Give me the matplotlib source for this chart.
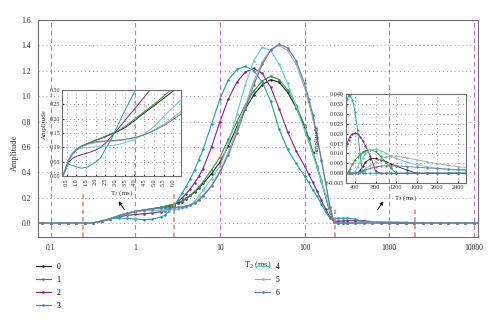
import matplotlib
matplotlib.use('Agg')
import matplotlib.pyplot as plt
from matplotlib.ticker import FormatStrFormatter, NullLocator

plt.rcParams['font.family'] = ['Liberation Serif', 'DejaVu Serif']
plt.rcParams['mathtext.fontset'] = 'stix'

# T2 grid (ms)
t2 = [0.063, 0.079, 0.1, 0.126, 0.158, 0.2, 0.251, 0.316, 0.398, 0.501, 0.631, 0.794,
      1.0, 1.259, 1.585, 1.995, 2.239, 2.512, 2.818, 3.162, 3.548, 3.981, 4.467, 5.012,
      5.623, 6.31, 7.943, 10.0, 12.59, 15.85, 19.95, 25.12, 31.62, 39.81, 50.12, 63.1,
      79.43, 100.0, 112.2, 125.9, 141.3, 158.5, 177.8, 199.5, 223.9, 251.2, 281.8, 316.2,
      398.1, 501.2, 631.0, 794.3, 1000.0, 1259.0, 1585.0, 1995.0, 2512.0, 3162.0, 3981.0,
      5012.0, 6310.0, 7943.0, 10000.0, 12589.0]

amp_0 = [0, 0, 0, 0, 0, 0, 0,
         0.002, 0.015, 0.034, 0.057, 0.077, 0.092, 0.103, 0.113, 0.124,
         0.130, 0.137, 0.146, 0.156, 0.170, 0.192, 0.218, 0.245, 0.277, 0.312,
         0.39, 0.48, 0.61, 0.76, 0.90, 1.01, 1.09, 1.13, 1.11, 1.03, 0.91,
         0.76, 0.66, 0.55, 0.44, 0.33, 0.21, 0.09, 0.005, 0, 0, 0,
         0, 0.0015, 0.0062, 0.0075, 0.0058, 0.003, 0, 0, 0, 0, 0, 0, 0, 0, 0, 0]
amp_1 = [0, 0, 0, 0, 0, 0, 0,
         0.002, 0.016, 0.035, 0.058, 0.078, 0.093, 0.104, 0.114, 0.125,
         0.131, 0.139, 0.148, 0.158, 0.174, 0.197, 0.222, 0.250, 0.285, 0.325,
         0.42, 0.52, 0.66, 0.80, 0.93, 1.04, 1.12, 1.157, 1.13, 1.05, 0.93,
         0.77, 0.67, 0.56, 0.45, 0.33, 0.21, 0.09, 0.006, 0, 0.0012, 0.0025,
         0.0065, 0.0095, 0.0117, 0.011, 0.0055, 0, 0, 0, 0, 0, 0, 0, 0, 0, 0, 0]
amp_2 = [0, 0, 0, 0, 0, 0, 0,
         0.002, 0.013, 0.030, 0.049, 0.061, 0.068, 0.074, 0.080, 0.090,
         0.099, 0.115, 0.138, 0.165, 0.197, 0.232, 0.272, 0.318, 0.37, 0.43,
         0.60, 0.80, 0.98, 1.11, 1.19, 1.218, 1.18, 1.07, 0.90, 0.72, 0.57,
         0.45, 0.385, 0.32, 0.25, 0.18, 0.11, 0.045, 0.014, 0.0155, 0.0173, 0.0188,
         0.0203, 0.0185, 0.0125, 0.0015, 0, 0, 0, 0, 0, 0, 0, 0, 0, 0, 0, 0]
amp_3 = [0, 0, 0, 0, 0, 0, 0,
         0.002, 0.02, 0.036, 0.04, 0.037, 0.032, 0.027, 0.031, 0.048,
         0.062, 0.095, 0.13, 0.18, 0.235, 0.29, 0.35, 0.42, 0.50, 0.58,
         0.78, 0.98, 1.13, 1.21, 1.235, 1.20, 1.11, 0.96, 0.74, 0.58, 0.47,
         0.37, 0.32, 0.26, 0.21, 0.15, 0.09, 0.04, 0.033, 0.0375, 0.0394, 0.0395,
         0.031, 0.009, 0, 0, 0, 0, 0, 0, 0, 0, 0, 0, 0, 0, 0, 0]
amp_4 = [0, 0, 0, 0, 0, 0, 0,
         0.002, 0.016, 0.036, 0.06, 0.081, 0.093, 0.097, 0.099, 0.101,
         0.102, 0.104, 0.106, 0.11, 0.116, 0.126, 0.145, 0.172, 0.215, 0.26,
         0.35, 0.45, 0.63, 0.86, 1.09, 1.28, 1.385, 1.36, 1.25, 1.10, 0.92,
         0.73, 0.64, 0.54, 0.44, 0.33, 0.22, 0.10, 0.008, 0, 0, 0,
         0.001, 0.0055, 0.0105, 0.0122, 0.0102, 0.007, 0.0044, 0.0025, 0.0013, 0.0005, 0, 0, 0, 0, 0, 0]
amp_5 = [0, 0, 0, 0, 0, 0, 0,
         0.002, 0.015, 0.034, 0.056, 0.075, 0.089, 0.101, 0.110, 0.116,
         0.118, 0.120, 0.121, 0.123, 0.127, 0.133, 0.143, 0.160, 0.185, 0.22,
         0.30, 0.41, 0.56, 0.74, 0.93, 1.12, 1.27, 1.37, 1.40, 1.36, 1.25,
         1.07, 0.95, 0.82, 0.66, 0.49, 0.31, 0.13, 0.006, 0, 0, 0,
         0, 0, 0.0027, 0.0057, 0.0083, 0.0086, 0.0069, 0.0048, 0.003, 0.0015, 0.0005, 0, 0, 0, 0, 0]
amp_6 = [0, 0, 0, 0, 0, 0, 0,
         0.002, 0.015, 0.035, 0.058, 0.076, 0.09, 0.103, 0.113, 0.119,
         0.121, 0.122, 0.123, 0.125, 0.128, 0.133, 0.142, 0.158, 0.18, 0.212,
         0.29, 0.40, 0.54, 0.71, 0.90, 1.09, 1.25, 1.36, 1.41, 1.38, 1.28,
         1.10, 0.98, 0.85, 0.68, 0.50, 0.32, 0.13, 0.006, 0, 0, 0,
         0, 0.0008, 0.002, 0.0032, 0.0038, 0.0036, 0.003, 0.0024, 0.0018, 0.001, 0.0003, 0, 0, 0, 0, 0]

# long T2 tail, shown in the right inset
tail_t2 = [230, 250, 275, 300, 350, 400, 450, 500, 550, 600, 700, 800, 900, 1000,
           1100, 1200, 1400, 1600, 1800, 2000, 2200, 2400, 2550]
tail_0 = [0, 0, 0, 0, 0, 0, 0, 0.0015, 0.0035, 0.0055, 0.0074, 0.0075, 0.0068, 0.0058,
          0.0047, 0.0036, 0.0017, 0, 0, 0, 0, 0, 0]
tail_1 = [0, 0, 0.001, 0.002, 0.0045, 0.0065, 0.0082, 0.0095, 0.0106, 0.0114, 0.0118, 0.011,
          0.0085, 0.0055, 0.0025, 0, 0, 0, 0, 0, 0, 0, 0]
tail_2 = [0.014, 0.0155, 0.017, 0.0185, 0.0198, 0.0203, 0.0198, 0.0185, 0.0165, 0.014, 0.0085,
          0.001, 0, 0, 0, 0, 0, 0, 0, 0, 0, 0, 0]
tail_3 = [0.034, 0.0375, 0.0393, 0.0396, 0.037, 0.031, 0.022, 0.009, 0, 0, 0, 0, 0, 0, 0, 0,
          0, 0, 0, 0, 0, 0, 0]
tail_4 = [0, 0, 0, 0, 0, 0.001, 0.003, 0.0055, 0.0078, 0.0097, 0.0118, 0.0122, 0.0115, 0.0102,
          0.0088, 0.0075, 0.0057, 0.0043, 0.0033, 0.0025, 0.0019, 0.0015, 0.0013]
tail_5 = [0, 0, 0, 0, 0, 0, 0, 0, 0.0012, 0.0022, 0.004, 0.0058, 0.0073, 0.0083, 0.0087,
          0.0086, 0.0078, 0.0068, 0.0058, 0.0048, 0.004, 0.0033, 0.003]
tail_6 = [0, 0, 0, 0, 0, 0, 0.0003, 0.0008, 0.0012, 0.0017, 0.0025, 0.0032, 0.0036, 0.0038,
          0.0038, 0.0037, 0.0034, 0.003, 0.0027, 0.0024, 0.0021, 0.0019, 0.0018]

labels = ['0', '1', '2', '3', '4', '5', '6']
colors = ['#262626', '#2f9a3a', '#8e1f8e', '#17a3a3', '#62cccc', '#a8a8a8', '#5b7fae']
series = [amp_0, amp_1, amp_2, amp_3, amp_4, amp_5, amp_6]
tails = [tail_0, tail_1, tail_2, tail_3, tail_4, tail_5, tail_6]

decades = [0.1, 1, 10, 100, 1000, 10000]
decade_labels = ['0.1', '1', '10', '100', '1000', '10000']
amp_ticks = [0.0, 0.2, 0.4, 0.6, 0.8, 1.0, 1.2, 1.4, 1.6]
# short orange markers (T2 cut-offs) and their heights
cut_t2 = [0.24, 2.86, 229, 2040]
cut_top = [0.24, 0.24, 0.11, 0.11]

left_ticks = [0.5, 1.0, 1.5, 2.0, 2.5, 3.0, 3.5, 4.0, 4.5, 5.0, 5.5, 6.0]
left_yticks = [0.0, 0.05, 0.10, 0.15, 0.20, 0.25, 0.30]
right_ticks = [400, 800, 1200, 1600, 2000, 2400]
right_yticks = [-0.005, 0.0, 0.005, 0.010, 0.015, 0.020, 0.025, 0.030, 0.035, 0.040]

grid_kw = dict(ls=(0, (1, 3)), color='#a0a0a0', lw=0.7)
spine_col = '#707070'
xlim = (0.0702, 11300)
ylim = (-0.11, 1.6)

fig = plt.figure(figsize=(5, 3.27), dpi=100)
rect = [0.076, 0.275, 0.88, 0.664]
ax = fig.add_axes(rect)
for y, c, lab in zip(series, colors, labels):
    ax.plot(t2, y, color=c, lw=0.8, marker='.', ms=1.7, label=lab)
ax.vlines(cut_t2, ylim[0], cut_top, colors='#f08060', linestyles=(0, (3, 2)), lw=1.1)
ax.set_xscale('log')
ax.set_xlim(xlim)
ax.set_ylim(ylim)
ax.set_xticks(decades)
ax.set_xticklabels(decade_labels)
ax.xaxis.set_minor_locator(NullLocator())
ax.set_yticks(amp_ticks)
ax.yaxis.set_major_formatter(FormatStrFormatter('%.1f'))
ax.yaxis.grid(True, **grid_kw)
ax.tick_params(labelsize=5.5, length=0, colors='#333333', pad=5)
for s in ax.spines.values():
    s.set_color(spine_col)
    s.set_linewidth(0.8)
ax.set_xlabel('T$_2$ (ms)', fontsize=6, color='#333333', labelpad=5)
ax.set_ylabel('Amplitude', fontsize=6, color='#333333')
ax.yaxis.set_label_coords(-0.043, 0.39)

# left inset: short T2
ins1 = fig.add_axes([0.124, 0.462, 0.238, 0.263])
for y, c in zip(series, colors):
    ins1.plot(t2, y, color=c, lw=0.7)
ins1.set_xlim(0.26, 6.4)
ins1.set_ylim(0, 0.3)
ins1.set_xticks(left_ticks)
ins1.xaxis.set_major_formatter(FormatStrFormatter('%.1f'))
ins1.set_yticks(left_yticks)
ins1.yaxis.set_major_formatter(FormatStrFormatter('%.2f'))
ins1.tick_params(axis='x', labelrotation=90)
ins1.tick_params(labelsize=4.3, length=1.5, direction='in', colors='#333333', pad=1.5)
ins1.grid(True, **grid_kw)
for s in ins1.spines.values():
    s.set_color(spine_col)
    s.set_linewidth(0.8)
ins1.set_xlabel('T$_2$ (ms)', fontsize=5, color='#333333', labelpad=2)
ins1.set_ylabel('Amplitude', fontsize=5, color='#333333')
ins1.yaxis.set_label_coords(-0.13, 0.6)

# right inset: long T2 tail
ins2 = fig.add_axes([0.692, 0.440, 0.24, 0.272])
for y, c in zip(tails, colors):
    ins2.plot(tail_t2, y, color=c, lw=0.6, marker='.', ms=1.2)
ins2.set_xlim(225, 2555)
ins2.set_ylim(-0.005, 0.040)
ins2.set_xticks(right_ticks)
ins2.set_yticks(right_yticks)
ins2.yaxis.set_major_formatter(FormatStrFormatter('%.3f'))
ins2.tick_params(labelsize=4.5, length=1.5, direction='in', colors='#333333', pad=1.5)
ins2.grid(True, **grid_kw)
for s in ins2.spines.values():
    s.set_color(spine_col)
    s.set_linewidth(0.8)
ins2.set_xlabel('T$_2$ (ms)', fontsize=5, color='#333333', labelpad=2)
ins2.set_ylabel('Amplitude', fontsize=5, color='#333333')
ins2.yaxis.set_label_coords(-0.22, 0.5)

# dashed decade lines drawn over everything
ov = fig.add_axes(rect, facecolor='none')
ov.set_xscale('log')
ov.set_xlim(xlim)
ov.set_ylim(ylim)
ov.axis('off')
for d in decades:
    ov.axvline(d, color='#d46ac8', ls=(0, (4, 3)), lw=0.8)

arrow_kw = dict(arrowstyle='-|>', color='#111111', lw=0.7, mutation_scale=5)
ax.annotate('', xy=(117 / 500, 1 - 199 / 327), xytext=(126 / 500, 1 - 212 / 327),
            xycoords='figure fraction', arrowprops=arrow_kw)
ax.annotate('', xy=(385 / 500, 1 - 199 / 327), xytext=(376 / 500, 1 - 212 / 327),
            xycoords='figure fraction', arrowprops=arrow_kw)

handles, labs = ax.get_legend_handles_labels()
fig.legend(handles, labs, loc='upper left', bbox_to_anchor=(0.072, 1 - 263 / 327), ncol=2,
           frameon=False, fontsize=5.5, handlelength=1.9, columnspacing=25.5,
           labelspacing=0.65, borderaxespad=0, borderpad=0, handletextpad=0.8)

fig.savefig('out.png', dpi=100)
